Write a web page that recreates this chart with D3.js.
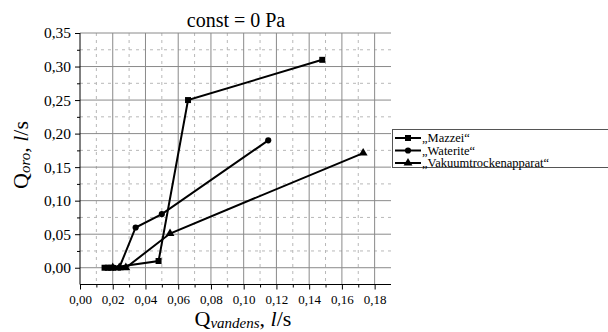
<!DOCTYPE html>
<html>
<head>
<meta charset="UTF-8">
<script src="https://d3js.org/d3.v7.min.js"></script>
<style>
  body { margin: 0; background: #fff; }
  svg text { font-family: "Times New Roman", "Liberation Serif", Tinos, "DejaVu Serif", serif !important; }
</style>
</head>
<body>
<svg id="chart" width="608" height="332"></svg>
<script>
// data
const mazzeiX = [0.015, 0.017, 0.019, 0.048, 0.066, 0.148];
const mazzeiY = [0, 0, 0, 0.01, 0.25, 0.31];
const wateriteX = [0.021, 0.024, 0.034, 0.050, 0.115];
const wateriteY = [0, 0, 0.06, 0.08, 0.19];
const vakuumX = [0.020, 0.024, 0.028, 0.055, 0.173];
const vakuumY = [0, 0, 0, 0.051, 0.171];
const seriesNames = ["\u201EMazzei\u201C", "\u201EWaterite\u201C", "\u201EVakuumtrockenapparat\u201C"];
const xTicks = [0, 0.02, 0.04, 0.06, 0.08, 0.10, 0.12, 0.14, 0.16, 0.18];
const yTicks = [0, 0.05, 0.10, 0.15, 0.20, 0.25, 0.30, 0.35];

const svg = d3.select("#chart");
const x = d3.scaleLinear().domain([0, 0.19]).range([80, 391]);
const y = d3.scaleLinear().domain([-0.025, 0.35]).range([284.5, 33]);
const fmt = d => d3.format(".2f")(d).replace(".", ",");

const grid = svg.append("g");
// minor dashed grid
const xMinor = d3.range(0.01, 0.18, 0.02);
const yMinor = d3.range(0.025, 0.35, 0.05);
grid.selectAll(".vmin").data(xMinor).join("line")
  .attr("x1", d => x(d)).attr("x2", d => x(d))
  .attr("y1", y(0.35)).attr("y2", y(-0.025))
  .attr("stroke", "#b8b8b8").attr("stroke-dasharray", "3,4");
grid.selectAll(".hmin").data(yMinor).join("line")
  .attr("x1", x(0)).attr("x2", x(0.19))
  .attr("y1", d => y(d)).attr("y2", d => y(d))
  .attr("stroke", "#b8b8b8").attr("stroke-dasharray", "3,4");
// major grid
grid.selectAll(".vmaj").data(xTicks.slice(1)).join("line")
  .attr("x1", d => x(d)).attr("x2", d => x(d))
  .attr("y1", y(0.35)).attr("y2", y(-0.025))
  .attr("stroke", "#8a8a8a");
grid.selectAll(".hmaj").data(yTicks).join("line")
  .attr("x1", x(0)).attr("x2", x(0.19))
  .attr("y1", d => y(d)).attr("y2", d => y(d))
  .attr("stroke", "#8a8a8a");

// axes
const xAxis = svg.append("g").attr("transform", `translate(0,${y(-0.025)})`)
  .call(d3.axisBottom(x).tickValues(xTicks).tickFormat(fmt).tickSize(5).tickPadding(5));
xAxis.select(".domain").attr("d", `M${x(0)},0H${x(0.19)}`);
xAxis.selectAll("text").attr("font-size", 13);
svg.append("g").attr("transform", `translate(0,${y(-0.025)})`)
  .call(d3.axisBottom(x).tickValues(xMinor).tickFormat("").tickSize(3))
  .select(".domain").remove();

const yAxis = svg.append("g").attr("transform", `translate(${x(0)},0)`)
  .call(d3.axisLeft(y).tickValues(yTicks).tickFormat(fmt).tickSize(5).tickPadding(4));
yAxis.select(".domain").attr("d", `M0,${y(0.35)}V${y(-0.025)}`);
yAxis.selectAll("text").attr("font-size", 15.5);
svg.append("g").attr("transform", `translate(${x(0)},0)`)
  .call(d3.axisLeft(y).tickValues(yMinor).tickFormat("").tickSize(3))
  .select(".domain").remove();

// series
const series = [
  { xs: mazzeiX, ys: mazzeiY, sym: d3.symbolSquare, size: 36 },
  { xs: wateriteX, ys: wateriteY, sym: d3.symbolCircle, size: 30 },
  { xs: vakuumX, ys: vakuumY, sym: d3.symbolTriangle, size: 34 }
];
const line = d3.line().x(d => x(d[0])).y(d => y(d[1]));
series.forEach(s => {
  const pts = s.xs.map((v, i) => [v, s.ys[i]]);
  svg.append("path").datum(pts).attr("d", line)
    .attr("fill", "none").attr("stroke", "#000").attr("stroke-width", 2);
  svg.append("g").selectAll("path").data(pts).join("path")
    .attr("transform", d => `translate(${x(d[0])},${y(d[1])})`)
    .attr("d", d3.symbol().type(s.sym).size(s.size))
    .attr("fill", "#000");
});

// title
svg.append("text").attr("x", 236).attr("y", 27).attr("text-anchor", "middle")
  .attr("font-size", 20).text("const = 0 Pa");

// x axis title
const xt = svg.append("text").attr("x", 243).attr("y", 326).attr("text-anchor", "middle")
  .attr("font-size", 22);
xt.append("tspan").text("Q");
xt.append("tspan").attr("font-size", 15).attr("font-style", "italic").attr("dy", 2).text("vandens");
xt.append("tspan").attr("dy", -2).text(", ");
xt.append("tspan").attr("font-style", "italic").text("l");
xt.append("tspan").text("/s");

// y axis title
const yt = svg.append("text").attr("transform", "translate(28,155) rotate(-90)")
  .attr("text-anchor", "middle").attr("font-size", 22);
yt.append("tspan").text("Q");
yt.append("tspan").attr("font-size", 15).attr("font-style", "italic").attr("dy", 2).text("oro");
yt.append("tspan").attr("dy", -2).text(", ");
yt.append("tspan").attr("font-style", "italic").text("l");
yt.append("tspan").text("/s");

// legend
const lg = svg.append("g");
lg.append("rect").attr("x", 392.5).attr("y", 129.5).attr("width", 240).attr("height", 38)
  .attr("fill", "#fff").attr("stroke", "#555");
series.forEach((s, i) => {
  const cy = 138 + i * 12.5;
  lg.append("line").attr("x1", 395).attr("x2", 421).attr("y1", cy).attr("y2", cy)
    .attr("stroke", "#000").attr("stroke-width", 2);
  lg.append("path").attr("transform", `translate(408,${cy})`)
    .attr("d", d3.symbol().type(s.sym).size(s.size)).attr("fill", "#000");
  lg.append("text").attr("x", 422).attr("y", cy + 4).attr("font-size", 12.5)
    .text(seriesNames[i]);
});
</script>
</body>
</html>
